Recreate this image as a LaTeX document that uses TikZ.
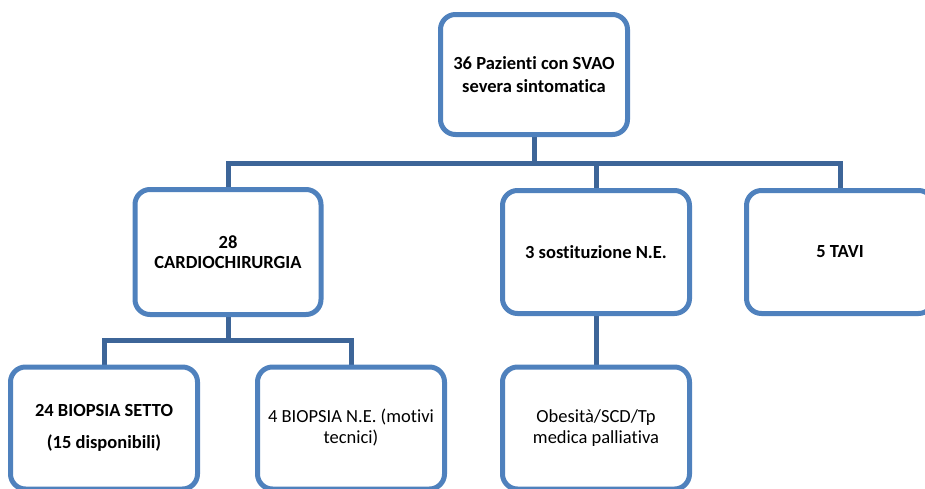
\documentclass[tikz,border=0pt]{standalone}
\usepackage{fontspec}
\setmainfont{Carlito}[Ligatures=NoCommon]
\usetikzlibrary{backgrounds}
\definecolor{boxblue}{HTML}{4F81BD}
\definecolor{linkblue}{HTML}{3D6598}
\tikzset{
  orgbox/.style={draw=boxblue, line width=5pt, rounded corners=15pt, fill=white,
    minimum width=187pt, minimum height=124pt, align=center, inner sep=2pt,
    font=\fontsize{18.5}{21}\selectfont},
  conn/.style={draw=linkblue, line width=5pt}
}
\begin{document}
\begin{tikzpicture}[x=1pt,y=-1pt]
\clip (0,0) rectangle (925,488);
\node[orgbox, minimum height=120pt, font=\fontsize{18.5}{22.5}\selectfont\bfseries] (top) at (534,74.5) {36 Pazienti con SVAO\\severa sintomatica};
\node[orgbox, minimum width=186pt, minimum height=125pt, font=\fontsize{18.5}{20}\selectfont\bfseries] (cardio) at (228,252) {28\\CARDIOCHIRURGIA};
\node[orgbox, minimum height=123pt, font=\fontsize{18.5}{20}\selectfont\bfseries] (sost) at (596,252) {3 sostituzione N.E.};
\node[orgbox, minimum height=123pt, font=\fontsize{18.5}{20}\selectfont\bfseries] (tavi) at (840,252) {5 TAVI};
\node[orgbox, minimum height=122pt, font=\fontsize{18.5}{20}\selectfont\bfseries] (b1) at (104,428) {24 BIOPSIA SETTO\\[12pt](15 disponibili)};
\node[orgbox, minimum height=122pt] (b2) at (351,428) {4 BIOPSIA N.E. (motivi\\tecnici)};
\node[orgbox, minimum height=122pt] (ob) at (596,428) {Obesità/SCD/Tp\\medica palliativa};
\coordinate (bus) at (535,163);
\coordinate (bus2) at (228,340);
\begin{scope}[on background layer]
\draw[conn] (top.south) -- (top.south |- bus);
\draw[conn] (cardio.north) |- (bus) -| (tavi.north);
\draw[conn] (sost.north) -- (sost.north |- bus);
\draw[conn] (cardio.south) -- (bus2);
\draw[conn] (b1.north) |- (bus2) -| (b2.north);
\draw[conn] (sost.south) -- (ob.north);
\end{scope}
\end{tikzpicture}
\end{document}
